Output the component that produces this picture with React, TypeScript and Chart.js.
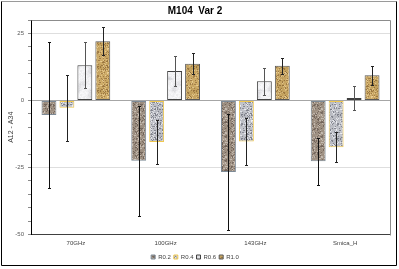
import React, { useEffect, useRef } from "react";
import { Chart, registerables } from "chart.js";

Chart.register(...registerables);

// ---- data ----
const categories = ["70GHz", "100GHz", "143GHz", "Smica_H"];
const seriesNames = ["R0.2", "R0.4", "R0.6", "R1.0"];
const r02 = [-5.4, -22.5, -26.7, -22.7];
const r02Err = [27.3, 20.6, 21.8, 8.8];
const r04 = [-2.7, -15.5, -15.3, -17.5];
const r04Err = [12.3, 8.3, 8.6, 5.6];
const r06 = [13.1, 11.0, 7.2, 0.9];
const r06Err = [8.6, 5.6, 5.0, 4.3];
const r10 = [22.1, 13.7, 12.9, 9.4];
const r10Err = [5.2, 3.9, 3.0, 3.5];
const yMin = -50;
const yMax = 30;
const yStep = 5;
const yLabelEvery = 25;
const chartTitle = "M104  Var 2";
const yTitle = "A12 - A34";

const FONT = "'Liberation Sans', Arial, sans-serif";

function hash(x: number, y: number, s: number) {
  const v = Math.sin(x * 12.9898 + y * 78.233 + s * 37.719) * 43758.5453;
  return v - Math.floor(v);
}

// smooth, tileable value noise (grid cell = 6px, 4 cells per 24px tile)
function smooth(x: number, y: number, s: number) {
  const cell = 6;
  const n = 4;
  const gx = x / cell;
  const gy = y / cell;
  const x0 = Math.floor(gx);
  const y0 = Math.floor(gy);
  const fx = gx - x0;
  const fy = gy - y0;
  const h = (a: number, b: number) => hash(((a % n) + n) % n, ((b % n) + n) % n, s);
  const a = h(x0, y0) * (1 - fx) + h(x0 + 1, y0) * fx;
  const b = h(x0, y0 + 1) * (1 - fx) + h(x0 + 1, y0 + 1) * fx;
  return a * (1 - fy) + b * fy;
}

type Tex = "brown" | "gray" | "marble" | "sand";

function makeTexture(kind: Tex): CanvasPattern | string {
  const size = 24;
  const c = document.createElement("canvas");
  c.width = size;
  c.height = size;
  const g = c.getContext("2d");
  if (!g) return "#aaa";
  const img = g.createImageData(size, size);
  const pal: Record<Tex, number[][]> = {
    brown: [[162, 148, 134], [122, 108, 98], [198, 188, 178]],
    gray: [[190, 192, 199], [132, 134, 144], [228, 229, 234]],
    marble: [[242, 242, 244], [205, 205, 210], [252, 252, 253]],
    sand: [[201, 167, 100], [158, 122, 68], [224, 196, 138]],
  };
  const [base, dark, light] = pal[kind];
  const seed = kind.length * 3.1;
  for (let y = 0; y < size; y++) {
    for (let x = 0; x < size; x++) {
      const n = hash(x, y, seed);
      const j = (hash(y, x, seed + 1) - 0.5) * 14;
      let col: number[];
      if (kind === "marble") {
        const s = smooth(x, y, seed);
        const t = Math.max(0, Math.min(1, (s - 0.45) * 2.2));
        col = [
          base[0] * (1 - t) + dark[0] * t,
          base[1] * (1 - t) + dark[1] * t,
          base[2] * (1 - t) + dark[2] * t,
        ];
      } else {
        const s = (smooth(x, y, seed + 2) - 0.5) * 18;
        const c0 = n < 0.2 ? dark : n > 0.86 ? light : base;
        col = [c0[0] + s, c0[1] + s, c0[2] + s];
      }
      const i = (y * size + x) * 4;
      img.data[i] = Math.max(0, Math.min(255, col[0] + j));
      img.data[i + 1] = Math.max(0, Math.min(255, col[1] + j));
      img.data[i + 2] = Math.max(0, Math.min(255, col[2] + j));
      img.data[i + 3] = 255;
    }
  }
  g.putImageData(img, 0, 0);
  const p = g.createPattern(c, "repeat");
  return p || "#aaa";
}

const errorBarPlugin = {
  id: "errorBars",
  afterDatasetsDraw(chart: any) {
    const ctx = chart.ctx;
    const ys = chart.scales.y;
    chart.data.datasets.forEach((ds: any, i: number) => {
      const meta = chart.getDatasetMeta(i);
      meta.data.forEach((bar: any, j: number) => {
        const v = ds.data[j];
        const e = ds.errors[j];
        const x = Math.round(bar.x) + 0.5;
        const yt = Math.round(ys.getPixelForValue(v + e)) + 0.5;
        const yb = Math.round(ys.getPixelForValue(v - e)) + 0.5;
        ctx.save();
        ctx.strokeStyle = ds.errorColor;
        ctx.lineWidth = 1;
        ctx.beginPath();
        ctx.moveTo(x, yt);
        ctx.lineTo(x, yb);
        ctx.moveTo(x - 1.5, yt);
        ctx.lineTo(x + 1.5, yt);
        ctx.moveTo(x - 1.5, yb);
        ctx.lineTo(x + 1.5, yb);
        ctx.stroke();
        ctx.restore();
      });
    });
  },
};

const framePlugin = {
  id: "frame",
  beforeDraw(chart: any) {
    const ctx = chart.ctx;
    ctx.save();
    ctx.fillStyle = "#ffffff";
    ctx.fillRect(0, 0, chart.width, chart.height);
    ctx.restore();
  },
  afterDraw(chart: any) {
    const ctx = chart.ctx;
    const a = chart.chartArea;
    const W = chart.width;
    const H = chart.height;
    ctx.save();
    ctx.lineWidth = 1;
    // plot area border (top and right)
    ctx.strokeStyle = "#8c8c8c";
    ctx.beginPath();
    ctx.moveTo(Math.round(a.left) + 0.5, Math.round(a.top) + 0.5);
    ctx.lineTo(Math.round(a.right) + 0.5, Math.round(a.top) + 0.5);
    ctx.lineTo(Math.round(a.right) + 0.5, Math.round(a.bottom) + 0.5);
    ctx.stroke();
    // outer chart frame
    ctx.strokeStyle = "#9a9a9a";
    ctx.beginPath();
    ctx.moveTo(1.5, 1.5);
    ctx.lineTo(W - 2.5, 1.5);
    ctx.stroke();
    ctx.strokeStyle = "#000000";
    ctx.beginPath();
    ctx.moveTo(1.5, 1.5);
    ctx.lineTo(1.5, H - 3.5);
    ctx.lineTo(W - 2.5, H - 3.5);
    ctx.lineTo(W - 2.5, 1.5);
    ctx.stroke();
    ctx.restore();
  },
};

export default function App() {
  const ref = useRef<HTMLCanvasElement | null>(null);

  useEffect(() => {
    if (!ref.current) return;
    const values = [r02, r04, r06, r10];
    const errors = [r02Err, r04Err, r06Err, r10Err];
    const textures: Tex[] = ["brown", "gray", "marble", "sand"];
    const borders = ["#7d8a96", "#f0c84e", "#404040", "#585858"];
    const errColors = ["#111111", "#222222", "#555555", "#222222"];

    const datasets = seriesNames.map((name, i) => ({
      label: name,
      data: values[i],
      errors: errors[i],
      errorColor: errColors[i],
      backgroundColor: makeTexture(textures[i]),
      borderColor: borders[i],
      borderWidth: 1,
      borderSkipped: false,
      barPercentage: 0.83,
      categoryPercentage: 0.8,
    }));

    const chart = new Chart(ref.current, {
      type: "bar",
      data: { labels: categories, datasets: datasets as any },
      plugins: [framePlugin, errorBarPlugin],
      options: {
        animation: false,
        responsive: false,
        devicePixelRatio: 1,
        layout: { padding: { left: 0, right: 9, top: 0, bottom: -1 } },
        plugins: {
          title: {
            display: true,
            text: chartTitle,
            color: "#000000",
            font: { family: FONT, size: 10, weight: "bold" },
            padding: { top: 5, bottom: 3 },
          },
          legend: {
            position: "bottom",
            labels: {
              boxWidth: 4,
              boxHeight: 4,
              padding: 3,
              color: "#404040",
              font: { family: FONT, size: 6 },
            },
          },
          tooltip: { enabled: false },
        },
        scales: {
          x: {
            grid: { display: false, drawTicks: false },
            border: { display: true, color: "#404040", width: 1 },
            ticks: {
              color: "#404040",
              padding: 5,
              font: { family: FONT, size: 6 },
              maxRotation: 0,
            },
            afterFit: (s: any) => {
              s.height = 16.5;
            },
          },
          y: {
            min: yMin,
            max: yMax,
            grid: {
              drawTicks: true,
              tickLength: 3,
              color: (c: any) => {
                const v = c.tick?.value;
                if (v === 0) return "#a6a6a6";
                if (v === yMax || v === yMin) return "rgba(0,0,0,0)";
                if (v % yLabelEvery === 0) return "#dedede";
                return "rgba(0,0,0,0)";
              },
              tickColor: "#8a8a8a",
            },
            border: { display: true, color: "#000000", width: 1 },
            ticks: {
              stepSize: yStep,
              autoSkip: false,
              padding: 4,
              color: "#595959",
              font: { family: FONT, size: 6 },
              callback: (v: any) => (Number(v) % yLabelEvery === 0 ? String(v) : ""),
            },
            title: {
              display: true,
              text: yTitle,
              color: "#404040",
              font: { family: FONT, size: 7 },
              padding: { top: 7, bottom: 0 },
            },
            afterFit: (s: any) => {
              s.width = 31;
            },
          },
        },
      } as any,
    });
    return () => chart.destroy();
  }, []);

  return (
    <div style={{ position: "fixed", left: 0, top: 0, width: 399, height: 269, background: "#fff" }}>
      <canvas ref={ref} width={399} height={269} style={{ display: "block", width: 399, height: 269 }} />
    </div>
  );
}
